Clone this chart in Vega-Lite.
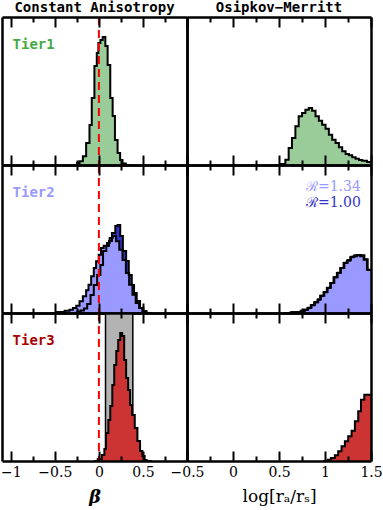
{
"$schema":"https://vega.github.io/schema/vega-lite/v6.json",
"background":"white",
"padding":{"left":0,"top":1,"right":0,"bottom":0},
"autosize":{"type":"pad"},
"columns":2,
"spacing":0,
"bounds":"flush",
"config":{"view":{"stroke":null},"title":{"font":"DejaVu Sans Mono","fontSize":14,"fontWeight":"bold","color":"black","offset":1,"anchor":"middle"}},
"datasets":{
"t1L":[{"x":-0.3,"h":0},{"x":-0.246,"h":2},{"x":-0.22,"h":3.7},{"x":-0.182,"h":8.7},{"x":-0.145,"h":22},{"x":-0.107,"h":40},{"x":-0.081,"h":67},{"x":-0.051,"h":99},{"x":-0.024,"h":112},{"x":-0.006,"h":122},{"x":0.017,"h":125},{"x":0.043,"h":128},{"x":0.073,"h":119},{"x":0.099,"h":100},{"x":0.129,"h":67},{"x":0.156,"h":49},{"x":0.182,"h":25},{"x":0.212,"h":12},{"x":0.241,"h":5},{"x":0.268,"h":1.5},{"x":0.306,"h":0},{"x":0.35,"h":0}],
"t2Ll":[{"x":-0.55,"h":0},{"x":-0.482,"h":1},{"x":-0.389,"h":2.3},{"x":-0.333,"h":3.3},{"x":-0.295,"h":5},{"x":-0.257,"h":7.3},{"x":-0.22,"h":11.7},{"x":-0.182,"h":16.7},{"x":-0.145,"h":22.7},{"x":-0.118,"h":28.3},{"x":-0.088,"h":36.7},{"x":-0.058,"h":45},{"x":-0.032,"h":51.7},{"x":-0.002,"h":58.3},{"x":0.024,"h":65},{"x":0.054,"h":67.3},{"x":0.092,"h":70},{"x":0.122,"h":75},{"x":0.156,"h":77},{"x":0.193,"h":71.7},{"x":0.231,"h":63.3},{"x":0.268,"h":53},{"x":0.306,"h":40},{"x":0.343,"h":28.3},{"x":0.381,"h":18.3},{"x":0.418,"h":10},{"x":0.456,"h":5},{"x":0.493,"h":1.7},{"x":0.531,"h":0},{"x":0.6,"h":0}],
"t2Ld":[{"x":-0.3,"h":0},{"x":-0.245,"h":1.5},{"x":-0.208,"h":2.5},{"x":-0.17,"h":4.5},{"x":-0.133,"h":9},{"x":-0.095,"h":18},{"x":-0.058,"h":28},{"x":-0.02,"h":38},{"x":0.017,"h":48},{"x":0.047,"h":62},{"x":0.084,"h":67},{"x":0.114,"h":72},{"x":0.148,"h":80},{"x":0.186,"h":87},{"x":0.212,"h":88},{"x":0.242,"h":77},{"x":0.272,"h":62},{"x":0.309,"h":52},{"x":0.339,"h":38},{"x":0.373,"h":28},{"x":0.399,"h":20},{"x":0.429,"h":12},{"x":0.467,"h":5},{"x":0.504,"h":1.7},{"x":0.542,"h":0},{"x":0.6,"h":0}],
"band":[{"x":0.075,"x2":0.385}],
"t3L":[{"x":-0.05,"h":0},{"x":-0.013,"h":2},{"x":0.032,"h":6},{"x":0.062,"h":12},{"x":0.08,"h":28},{"x":0.107,"h":41},{"x":0.129,"h":55},{"x":0.152,"h":76},{"x":0.174,"h":96},{"x":0.197,"h":110},{"x":0.219,"h":121},{"x":0.242,"h":128},{"x":0.264,"h":125},{"x":0.287,"h":101},{"x":0.309,"h":83},{"x":0.332,"h":71},{"x":0.354,"h":56},{"x":0.377,"h":46},{"x":0.407,"h":33},{"x":0.437,"h":20},{"x":0.467,"h":10},{"x":0.493,"h":5},{"x":0.519,"h":1},{"x":0.542,"h":0},{"x":0.6,"h":0}],
"t1R":[{"x":0.45,"h":0},{"x":0.521,"h":1},{"x":0.569,"h":5.3},{"x":0.605,"h":17},{"x":0.641,"h":27},{"x":0.678,"h":38.7},{"x":0.714,"h":48.7},{"x":0.751,"h":52},{"x":0.787,"h":55.3},{"x":0.824,"h":57},{"x":0.86,"h":54.3},{"x":0.897,"h":48.7},{"x":0.933,"h":44.3},{"x":0.969,"h":40.3},{"x":1.006,"h":36.3},{"x":1.042,"h":30.3},{"x":1.078,"h":25.3},{"x":1.115,"h":22},{"x":1.151,"h":17.7},{"x":1.187,"h":13.7},{"x":1.224,"h":11},{"x":1.26,"h":9.7},{"x":1.296,"h":7.7},{"x":1.333,"h":6.3},{"x":1.369,"h":5},{"x":1.405,"h":4.3},{"x":1.456,"h":3},{"x":1.5,"h":3}],
"t2Rl":[{"x":0.55,"h":0},{"x":0.627,"h":0.7},{"x":0.736,"h":2.3},{"x":0.772,"h":3.3},{"x":0.809,"h":5},{"x":0.845,"h":7.7},{"x":0.882,"h":10.7},{"x":0.918,"h":13.3},{"x":0.947,"h":17.3},{"x":0.984,"h":20.7},{"x":1.02,"h":25},{"x":1.056,"h":30},{"x":1.093,"h":35.7},{"x":1.129,"h":40},{"x":1.165,"h":45},{"x":1.202,"h":50},{"x":1.238,"h":52.3},{"x":1.274,"h":55.7},{"x":1.311,"h":56.7},{"x":1.347,"h":57.7},{"x":1.383,"h":56.7},{"x":1.42,"h":53.3},{"x":1.456,"h":43.3},{"x":1.5,"h":43.3}],
"t2Rd":[{"x":0.56,"h":0},{"x":0.64,"h":0.7},{"x":0.745,"h":2},{"x":0.78,"h":3.3},{"x":0.817,"h":5.3},{"x":0.853,"h":8},{"x":0.89,"h":10.7},{"x":0.926,"h":13.7},{"x":0.955,"h":17.3},{"x":0.992,"h":21},{"x":1.028,"h":25.3},{"x":1.064,"h":30},{"x":1.101,"h":35.7},{"x":1.137,"h":40.3},{"x":1.173,"h":45},{"x":1.21,"h":50.3},{"x":1.246,"h":53},{"x":1.282,"h":56.3},{"x":1.319,"h":57.7},{"x":1.355,"h":58},{"x":1.391,"h":57.7},{"x":1.428,"h":53.7},{"x":1.464,"h":43},{"x":1.5,"h":43}],
"t3R":[{"x":0.98,"h":0},{"x":1.028,"h":1.3},{"x":1.064,"h":3},{"x":1.107,"h":5.7},{"x":1.143,"h":9.7},{"x":1.18,"h":14.7},{"x":1.216,"h":19.7},{"x":1.252,"h":24.7},{"x":1.289,"h":30.3},{"x":1.325,"h":39.7},{"x":1.361,"h":49.7},{"x":1.391,"h":61.3},{"x":1.427,"h":66.3},{"x":1.5,"h":66.3}],
"one":[{"k":1}]
},
"concat":[
{"width":185,"height":148,"title":"Constant Anisotropy","resolve":{"axis":{"x":"independent","y":"independent"}},
"layer":[
{"data":{"name":"t1L"},"mark":{"type":"area","interpolate":"step-after","color":"#99cc99","clip":true},
"encoding":{"x":{"field":"x","type":"quantitative","scale":{"domain":[-1.1,1],"nice":false,"zero":false},"axis":{"orient":"bottom","values":[-1,-0.75,-0.5,-0.25,0,0.25,0.5,0.75,1],"domainColor":"black","domainWidth":2.5,"tickColor":"black","tickWidth":2,"tickSize":{"condition":{"test":"abs(datum.value*2-round(datum.value*2))<0.01","value":-10},"value":-5},"labels":false,"grid":false,"title":null,"zindex":1}},
"y":{"field":"h","type":"quantitative","scale":{"domain":[0,148],"nice":false,"zero":false},"axis":{"orient":"left","domainColor":"black","domainWidth":2.5,"ticks":false,"labels":false,"grid":false,"title":null,"zindex":1}}}},
{"data":{"name":"t1L"},"mark":{"type":"line","interpolate":"step-after","color":"black","strokeWidth":2,"clip":true},
"encoding":{"x":{"field":"x","type":"quantitative","axis":{"orient":"top","values":[-1,-0.75,-0.5,-0.25,0,0.25,0.5,0.75,1],"domainColor":"black","domainWidth":2.5,"tickColor":"black","tickWidth":2,"tickSize":{"condition":{"test":"abs(datum.value*2-round(datum.value*2))<0.01","value":-10},"value":-5},"labels":false,"grid":false,"title":null,"zindex":1}},
"y":{"field":"h","type":"quantitative","axis":{"orient":"right","domainColor":"black","domainWidth":2.5,"ticks":false,"labels":false,"grid":false,"title":null,"zindex":1}}}},
{"data":{"name":"one"},"mark":{"type":"rule","color":"#ff0000","strokeWidth":2,"strokeDash":[8,5]},"encoding":{"x":{"datum":0,"type":"quantitative","axis":null}}},
{"data":{"name":"one"},"mark":{"type":"text","text":"Tier1","font":"DejaVu Sans Mono","fontWeight":"bold","fontSize":14,"color":"#44aa44","align":"left","baseline":"middle"},"encoding":{"x":{"datum":-0.98,"type":"quantitative","axis":null},"y":{"datum":120,"type":"quantitative","axis":null}}}
]},
{"width":184,"height":148,"title":"Osipkov−Merritt","resolve":{"axis":{"x":"independent","y":"independent"}},
"layer":[
{"data":{"name":"t1R"},"mark":{"type":"area","interpolate":"step-after","color":"#99cc99","clip":true},
"encoding":{"x":{"field":"x","type":"quantitative","scale":{"domain":[-0.5,1.5],"nice":false,"zero":false},"axis":{"orient":"bottom","values":[-0.5,-0.25,0,0.25,0.5,0.75,1,1.25,1.5],"domainColor":"black","domainWidth":2.5,"tickColor":"black","tickWidth":2,"tickSize":{"condition":{"test":"abs(datum.value*2-round(datum.value*2))<0.01","value":-10},"value":-5},"labels":false,"grid":false,"title":null,"zindex":1}},
"y":{"field":"h","type":"quantitative","scale":{"domain":[0,148],"nice":false,"zero":false},"axis":{"orient":"left","domainColor":"black","domainWidth":2.5,"ticks":false,"labels":false,"grid":false,"title":null,"zindex":1}}}},
{"data":{"name":"t1R"},"mark":{"type":"line","interpolate":"step-after","color":"black","strokeWidth":2,"clip":true},
"encoding":{"x":{"field":"x","type":"quantitative","axis":{"orient":"top","values":[-0.5,-0.25,0,0.25,0.5,0.75,1,1.25,1.5],"domainColor":"black","domainWidth":2.5,"tickColor":"black","tickWidth":2,"tickSize":{"condition":{"test":"abs(datum.value*2-round(datum.value*2))<0.01","value":-10},"value":-5},"labels":false,"grid":false,"title":null,"zindex":1}},
"y":{"field":"h","type":"quantitative","axis":{"orient":"right","domainColor":"black","domainWidth":2.5,"ticks":false,"labels":false,"grid":false,"title":null,"zindex":1}}}}
]},
{"width":185,"height":148,"resolve":{"axis":{"x":"independent","y":"independent"}},
"layer":[
{"data":{"name":"t2Ld"},"mark":{"type":"area","interpolate":"step-after","color":"#3333cc","clip":true},
"encoding":{"x":{"field":"x","type":"quantitative","scale":{"domain":[-1.1,1],"nice":false,"zero":false},"axis":{"orient":"bottom","values":[-1,-0.75,-0.5,-0.25,0,0.25,0.5,0.75,1],"domainColor":"black","domainWidth":2.5,"tickColor":"black","tickWidth":2,"tickSize":{"condition":{"test":"abs(datum.value*2-round(datum.value*2))<0.01","value":-10},"value":-5},"labels":false,"grid":false,"title":null,"zindex":1}},
"y":{"field":"h","type":"quantitative","scale":{"domain":[0,148],"nice":false,"zero":false},"axis":{"orient":"left","domainColor":"black","domainWidth":2.5,"ticks":false,"labels":false,"grid":false,"title":null,"zindex":1}}}},
{"data":{"name":"t2Ll"},"mark":{"type":"area","interpolate":"step-after","color":"#9999ff","clip":true},
"encoding":{"x":{"field":"x","type":"quantitative","axis":{"orient":"top","values":[-1,-0.75,-0.5,-0.25,0,0.25,0.5,0.75,1],"domainColor":"black","domainWidth":2.5,"tickColor":"black","tickWidth":2,"tickSize":{"condition":{"test":"abs(datum.value*2-round(datum.value*2))<0.01","value":-10},"value":-5},"labels":false,"grid":false,"title":null,"zindex":1}},
"y":{"field":"h","type":"quantitative","axis":{"orient":"right","domainColor":"black","domainWidth":2.5,"ticks":false,"labels":false,"grid":false,"title":null,"zindex":1}}}},
{"data":{"name":"t2Ld"},"mark":{"type":"line","interpolate":"step-after","color":"black","strokeWidth":2,"clip":true},"encoding":{"x":{"field":"x","type":"quantitative","axis":null},"y":{"field":"h","type":"quantitative","axis":null}}},
{"data":{"name":"t2Ll"},"mark":{"type":"line","interpolate":"step-after","color":"black","strokeWidth":2,"clip":true},"encoding":{"x":{"field":"x","type":"quantitative","axis":null},"y":{"field":"h","type":"quantitative","axis":null}}},
{"data":{"name":"one"},"mark":{"type":"rule","color":"#ff0000","strokeWidth":2,"strokeDash":[8,5]},"encoding":{"x":{"datum":0,"type":"quantitative","axis":null}}},
{"data":{"name":"one"},"mark":{"type":"text","text":"Tier2","font":"DejaVu Sans Mono","fontWeight":"bold","fontSize":14,"color":"#9999ff","align":"left","baseline":"middle"},"encoding":{"x":{"datum":-0.98,"type":"quantitative","axis":null},"y":{"datum":120,"type":"quantitative","axis":null}}}
]},
{"width":184,"height":148,"resolve":{"axis":{"x":"independent","y":"independent"}},
"layer":[
{"data":{"name":"t2Rd"},"mark":{"type":"area","interpolate":"step-after","color":"#3333cc","clip":true},
"encoding":{"x":{"field":"x","type":"quantitative","scale":{"domain":[-0.5,1.5],"nice":false,"zero":false},"axis":{"orient":"bottom","values":[-0.5,-0.25,0,0.25,0.5,0.75,1,1.25,1.5],"domainColor":"black","domainWidth":2.5,"tickColor":"black","tickWidth":2,"tickSize":{"condition":{"test":"abs(datum.value*2-round(datum.value*2))<0.01","value":-10},"value":-5},"labels":false,"grid":false,"title":null,"zindex":1}},
"y":{"field":"h","type":"quantitative","scale":{"domain":[0,148],"nice":false,"zero":false},"axis":{"orient":"left","domainColor":"black","domainWidth":2.5,"ticks":false,"labels":false,"grid":false,"title":null,"zindex":1}}}},
{"data":{"name":"t2Rl"},"mark":{"type":"area","interpolate":"step-after","color":"#9999ff","clip":true},
"encoding":{"x":{"field":"x","type":"quantitative","axis":{"orient":"top","values":[-0.5,-0.25,0,0.25,0.5,0.75,1,1.25,1.5],"domainColor":"black","domainWidth":2.5,"tickColor":"black","tickWidth":2,"tickSize":{"condition":{"test":"abs(datum.value*2-round(datum.value*2))<0.01","value":-10},"value":-5},"labels":false,"grid":false,"title":null,"zindex":1}},
"y":{"field":"h","type":"quantitative","axis":{"orient":"right","domainColor":"black","domainWidth":2.5,"ticks":false,"labels":false,"grid":false,"title":null,"zindex":1}}}},
{"data":{"name":"t2Rd"},"mark":{"type":"line","interpolate":"step-after","color":"black","strokeWidth":2,"clip":true},"encoding":{"x":{"field":"x","type":"quantitative","axis":null},"y":{"field":"h","type":"quantitative","axis":null}}},
{"data":{"name":"t2Rl"},"mark":{"type":"line","interpolate":"step-after","color":"black","strokeWidth":2,"clip":true},"encoding":{"x":{"field":"x","type":"quantitative","axis":null},"y":{"field":"h","type":"quantitative","axis":null}}},
{"data":{"name":"one"},"mark":{"type":"text","text":"ℛ=1.34","font":"DejaVu Serif","fontSize":14,"color":"#9999ff","align":"right","baseline":"middle"},"encoding":{"x":{"datum":1.39,"type":"quantitative","axis":null},"y":{"datum":126,"type":"quantitative","axis":null}}},
{"data":{"name":"one"},"mark":{"type":"text","text":"ℛ=1.00","font":"DejaVu Serif","fontSize":14,"color":"#3333cc","align":"right","baseline":"middle"},"encoding":{"x":{"datum":1.39,"type":"quantitative","axis":null},"y":{"datum":110,"type":"quantitative","axis":null}}}
]},
{"width":185,"height":148,"resolve":{"axis":{"x":"independent","y":"independent"}},
"layer":[
{"data":{"name":"band"},"mark":{"type":"rect","color":"#b3b3b3","stroke":"black","strokeWidth":1.5,"clip":true},
"encoding":{"x":{"field":"x","type":"quantitative","scale":{"domain":[-1.1,1],"nice":false,"zero":false},"axis":{"orient":"bottom","values":[-1,-0.75,-0.5,-0.25,0,0.25,0.5,0.75,1],"format":"~g","domainColor":"black","domainWidth":2.5,"tickColor":"black","tickWidth":2,"tickSize":{"condition":{"test":"abs(datum.value*2-round(datum.value*2))<0.01","value":-10},"value":-5},"labelExpr":"(abs(datum.value*2-round(datum.value*2))<0.01 && datum.value<0.99) ? datum.label : ''","labelFont":"DejaVu Serif","labelFontSize":14,"labelColor":"black","labelPadding":14,"labelFlush":false,"labelOverlap":false,"labelBound":false,"grid":false,"title":"β","titleFont":"DejaVu Serif","titleFontSize":18,"titleFontStyle":"italic","titleFontWeight":"bold","titleColor":"black","titlePadding":4,"zindex":1}},
"x2":{"field":"x2"},
"y":{"datum":0,"type":"quantitative","scale":{"domain":[0,148],"nice":false,"zero":false},"axis":{"orient":"left","domainColor":"black","domainWidth":2.5,"ticks":false,"labels":false,"grid":false,"title":null,"zindex":1}},
"y2":{"datum":148}}},
{"data":{"name":"t3L"},"mark":{"type":"area","interpolate":"step-after","color":"#cc3333","clip":true},
"encoding":{"x":{"field":"x","type":"quantitative","axis":{"orient":"top","values":[-1,-0.75,-0.5,-0.25,0,0.25,0.5,0.75,1],"domainColor":"black","domainWidth":2.5,"tickColor":"black","tickWidth":2,"tickSize":{"condition":{"test":"abs(datum.value*2-round(datum.value*2))<0.01","value":-10},"value":-5},"labels":false,"grid":false,"title":null,"zindex":1}},
"y":{"field":"h","type":"quantitative","axis":{"orient":"right","domainColor":"black","domainWidth":2.5,"ticks":false,"labels":false,"grid":false,"title":null,"zindex":1}}}},
{"data":{"name":"t3L"},"mark":{"type":"line","interpolate":"step-after","color":"black","strokeWidth":2,"clip":true},"encoding":{"x":{"field":"x","type":"quantitative","axis":null},"y":{"field":"h","type":"quantitative","axis":null}}},
{"data":{"name":"one"},"mark":{"type":"rule","color":"#ff0000","strokeWidth":2,"strokeDash":[8,5]},"encoding":{"x":{"datum":0,"type":"quantitative","axis":null}}},
{"data":{"name":"one"},"mark":{"type":"text","text":"Tier3","font":"DejaVu Sans Mono","fontWeight":"bold","fontSize":14,"color":"#aa0000","align":"left","baseline":"middle"},"encoding":{"x":{"datum":-0.98,"type":"quantitative","axis":null},"y":{"datum":120,"type":"quantitative","axis":null}}}
]},
{"width":184,"height":148,"resolve":{"axis":{"x":"independent","y":"independent"}},
"layer":[
{"data":{"name":"t3R"},"mark":{"type":"area","interpolate":"step-after","color":"#cc3333","clip":true},
"encoding":{"x":{"field":"x","type":"quantitative","scale":{"domain":[-0.5,1.5],"nice":false,"zero":false},"axis":{"orient":"bottom","values":[-0.5,-0.25,0,0.25,0.5,0.75,1,1.25,1.5],"format":"~g","domainColor":"black","domainWidth":2.5,"tickColor":"black","tickWidth":2,"tickSize":{"condition":{"test":"abs(datum.value*2-round(datum.value*2))<0.01","value":-10},"value":-5},"labelExpr":"abs(datum.value*2-round(datum.value*2))<0.01 ? datum.label : ''","labelFont":"DejaVu Serif","labelFontSize":14,"labelColor":"black","labelPadding":14,"labelFlush":false,"labelOverlap":false,"labelBound":false,"grid":false,"title":"log[rₐ/rₛ]","titleFont":"DejaVu Serif","titleFontSize":17,"titleFontWeight":"normal","titleColor":"black","titlePadding":4,"zindex":1}},
"y":{"field":"h","type":"quantitative","scale":{"domain":[0,148],"nice":false,"zero":false},"axis":{"orient":"left","domainColor":"black","domainWidth":2.5,"ticks":false,"labels":false,"grid":false,"title":null,"zindex":1}}}},
{"data":{"name":"t3R"},"mark":{"type":"line","interpolate":"step-after","color":"black","strokeWidth":2,"clip":true},
"encoding":{"x":{"field":"x","type":"quantitative","axis":{"orient":"top","values":[-0.5,-0.25,0,0.25,0.5,0.75,1,1.25,1.5],"domainColor":"black","domainWidth":2.5,"tickColor":"black","tickWidth":2,"tickSize":{"condition":{"test":"abs(datum.value*2-round(datum.value*2))<0.01","value":-10},"value":-5},"labels":false,"grid":false,"title":null,"zindex":1}},
"y":{"field":"h","type":"quantitative","axis":{"orient":"right","domainColor":"black","domainWidth":2.5,"ticks":false,"labels":false,"grid":false,"title":null,"zindex":1}}}}
]}
]
}
